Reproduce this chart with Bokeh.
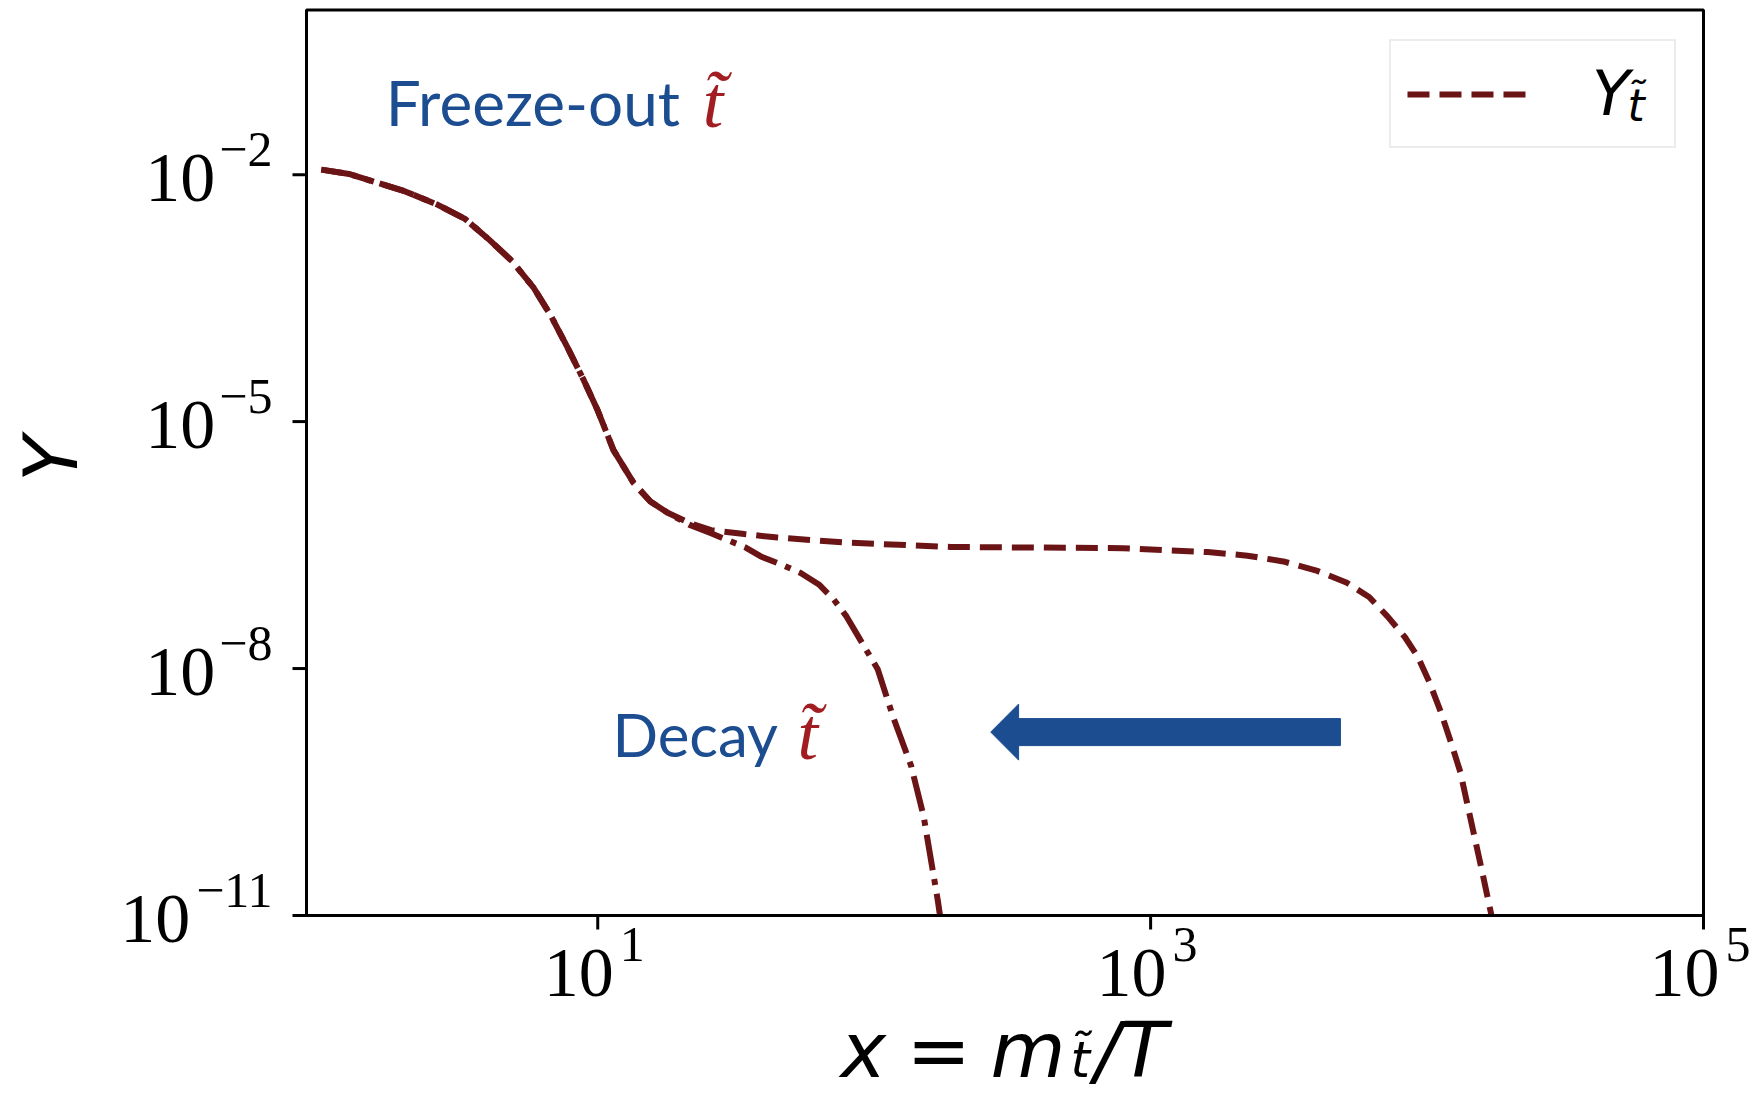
import math
from bokeh.plotting import figure
from bokeh.models import Range1d, Legend, LegendItem
from bokeh.core.properties import value
from bokeh.embed import file_html
from bokeh.resources import INLINE

# ---------------- data ----------------
x_freeze = [1.0, 1.26, 1.55, 2.0, 2.64, 3.31, 4.0, 4.9, 5.87, 6.76, 7.78, 8.91, 10.0,
            11.4, 13.5, 15.5, 17.9, 21.4, 25.7, 33.9, 44.7, 77.6, 189, 794, 1610,
            2240, 3020, 3980, 5130, 6170, 7190, 8320, 9250, 10200, 11200, 12300,
            13200, 14700, 15800, 17100]
Y_freeze = [1.15e-2, 1.02e-2, 8.2e-3, 6.3e-3, 4.3e-3, 2.9e-3, 1.68e-3, 8.9e-4, 4.2e-4,
            1.95e-4, 7.9e-5, 3.16e-5, 1.36e-5, 4.5e-6, 1.78e-6, 1.07e-6, 7.8e-7,
            5.9e-7, 4.8e-7, 4.3e-7, 3.9e-7, 3.4e-7, 3.0e-7, 2.9e-7, 2.6e-7, 2.35e-7,
            2.0e-7, 1.55e-7, 1.1e-7, 7.4e-8, 4.3e-8, 2.4e-8, 1.4e-8, 6.8e-9, 3.0e-9,
            1.17e-9, 5.5e-10, 1.05e-10, 3.5e-11, 1.0e-11]

x_decay = [1.0, 1.26, 1.55, 2.0, 2.64, 3.31, 4.0, 4.9, 5.87, 6.76, 7.78, 8.91, 10.0,
           11.4, 13.5, 15.5, 17.9, 21.4, 25.7, 34.3, 38.9, 45.7, 54.2, 63.1, 71.4,
           79.4, 89.3, 103, 117, 136, 151, 170, 173]
Y_decay = [1.15e-2, 1.02e-2, 8.2e-3, 6.3e-3, 4.3e-3, 2.9e-3, 1.68e-3, 8.9e-4, 4.2e-4,
           1.95e-4, 7.9e-5, 3.16e-5, 1.36e-5, 4.5e-6, 1.78e-6, 1.07e-6, 7.8e-7,
           5.6e-7, 4.4e-7, 2.95e-7, 2.3e-7, 1.86e-7, 1.45e-7, 1.05e-7, 6.9e-8,
           4.3e-8, 2.2e-8, 9.8e-9, 2.6e-9, 6.6e-10, 1.6e-10, 1.5e-11, 1.0e-11]

x_ticks = [1e1, 1e3, 1e5]
x_tick_exponents = ["1", "3", "5"]
y_ticks = [1e-2, 1e-5, 1e-8, 1e-11]
y_tick_exponents = ["\u22122", "\u22125", "\u22128", "\u221211"]

X_MIN, X_MAX = 0.884, 1e5
Y_MIN, Y_MAX = 1e-11, 1.0

# ---------------- layout (pixels) ----------------
W, H = 1757, 1094
FRAME_L, FRAME_R, FRAME_T, FRAME_B = 306, 1703, 9.5, 915
X_DEC = (FRAME_R - FRAME_L) / (math.log10(X_MAX) - math.log10(X_MIN))
Y_DEC = (FRAME_B - FRAME_T) / (math.log10(Y_MAX) - math.log10(Y_MIN))
x_lo = X_MIN * 10 ** (-FRAME_L / X_DEC)
x_hi = X_MAX * 10 ** ((W - FRAME_R) / X_DEC)
y_hi = Y_MAX * 10 ** (FRAME_T / Y_DEC)
y_lo = Y_MIN * 10 ** (-(H - FRAME_B) / Y_DEC)
TEXT_FIX = 23  # renderer draws "alphabetic" text this many px low


def shx(x, px):
    """x data value moved px pixels to the right"""
    return x * 10 ** (px / X_DEC)


def shy(y, px):
    """y data value moved px pixels up"""
    return y * 10 ** (px / Y_DEC)


def tshy(y, px):
    """text baseline position px pixels up (with renderer correction)"""
    return shy(y, px + TEXT_FIX)


# ---------------- style ----------------
CURVE = "#6b1416"
BLUE = "#1c4d91"
RED = "#a11d21"
SERIF = "Liberation Serif"
SANS = "DejaVu Sans"
TICK_FS, EXP_FS = 70, 50

p = figure(width=W, height=H, x_axis_type="log", y_axis_type="log",
           x_range=Range1d(x_lo, x_hi), y_range=Range1d(y_lo, y_hi),
           output_backend="svg", toolbar_location=None,
           min_border=0, min_border_left=0, min_border_right=0,
           min_border_top=0, min_border_bottom=0)
p.axis.visible = False
p.grid.visible = False
p.outline_line_color = None
p.background_fill_color = "white"
p.border_fill_color = "white"

# ---------------- curves ----------------
r_decay = p.line(x_decay, Y_decay, line_color=CURVE, line_width=6,
                 line_dash="36 9 6 9")
r_freeze = p.line(x_freeze, Y_freeze, line_color=CURVE, line_width=6,
                  line_dash="22 10")

# ---------------- frame, axes and ticks ----------------
p.quad(left=[X_MIN], right=[X_MAX], bottom=[Y_MIN], top=[Y_MAX],
       fill_color=None, line_color="black", line_width=3)
p.segment(x0=[X_MIN] * len(y_ticks), y0=y_ticks,
          x1=[shx(X_MIN, -14)] * len(y_ticks), y1=y_ticks,
          line_color="black", line_width=3)
p.segment(x0=x_ticks, y0=[Y_MIN] * len(x_ticks),
          x1=x_ticks, y1=[shy(Y_MIN, -14)] * len(x_ticks),
          line_color="black", line_width=3)


def exp_width(s):
    return sum(0.564 if c == "\u2212" else 0.5 for c in s) * EXP_FS


# y tick labels: "10" + superscript exponent
p.text(x=[shx(X_MIN, -34 - exp_width(e) - 4) for e in y_tick_exponents],
       y=[tshy(t, -26) for t in y_ticks], text=["10"] * len(y_ticks),
       text_align="right", text_baseline="alphabetic", text_font=value(SERIF),
       text_font_size=f"{TICK_FS}px", text_color="black")
p.text(x=[shx(X_MIN, -34)] * len(y_ticks), y=[tshy(t, 2) for t in y_ticks],
       text=y_tick_exponents, text_align="right", text_baseline="alphabetic",
       text_font=value(SERIF), text_font_size=f"{EXP_FS}px", text_color="black")

# x tick labels
p.text(x=[shx(t, 16) for t in x_ticks], y=[tshy(Y_MIN, -80)] * len(x_ticks),
       text=["10"] * len(x_ticks), text_align="right", text_baseline="alphabetic",
       text_font=value(SERIF), text_font_size=f"{TICK_FS}px", text_color="black")
p.text(x=[shx(t, 22) for t in x_ticks], y=[tshy(Y_MIN, -52)] * len(x_ticks),
       text=x_tick_exponents, text_align="left", text_baseline="alphabetic",
       text_font=value(SERIF), text_font_size=f"{EXP_FS}px", text_color="black")

# ---------------- axis titles ----------------
p.text(x=[shx(X_MIN, -230 - 26)], y=[shy(10 ** -5.5, 4)], text=["Y"],
       angle=math.pi / 2, text_align="center", text_baseline="alphabetic",
       text_font=value(SANS), text_font_style="italic", text_font_size="75px",
       text_color="black")

# x = m_t~ / T, piece by piece (offsets in px from the 10^3 tick)
xlab_text = ["x", "=", "m", "/T"]
xlab_dx = [-310, -244, -160, -56]
p.text(x=[shx(1e3, d) for d in xlab_dx], y=[tshy(Y_MIN, -158)] * len(xlab_text),
       text=xlab_text, text_align="left", text_baseline="alphabetic",
       text_font=value(SANS), text_font_style="italic", text_font_size="77px",
       text_color="black")
p.text(x=[shx(1e3, -80)], y=[tshy(Y_MIN, -167)], text=["t\u0303"],
       text_align="left", text_baseline="alphabetic", text_font=value(SANS),
       text_font_style="italic", text_font_size="50px", text_color="black")

# ---------------- annotations ----------------
FREEZE_POS = (1.71, 0.0403)
DECAY_POS = (11.3, 8.5e-10)
p.text(x=[FREEZE_POS[0]], y=[tshy(FREEZE_POS[1], 0)], text=["Freeze-out"],
       text_font=value("Lato"), text_font_size="62px", text_color=BLUE,
       text_baseline="alphabetic")
p.text(x=[shx(FREEZE_POS[0], 317)], y=[tshy(FREEZE_POS[1], 0)], text=["t\u0303"],
       text_font=value(SERIF), text_font_style="italic", text_font_size="74px",
       text_color=RED, text_baseline="alphabetic")
p.text(x=[DECAY_POS[0]], y=[tshy(DECAY_POS[1], 0)], text=["Decay"],
       text_font=value("Lato"), text_font_size="60px", text_color=BLUE,
       text_baseline="alphabetic")
p.text(x=[shx(DECAY_POS[0], 185)], y=[tshy(DECAY_POS[1], 0)], text=["t\u0303"],
       text_font=value(SERIF), text_font_style="italic", text_font_size="74px",
       text_color=RED, text_baseline="alphabetic")

# block arrow pointing left
ARROW_TIP_X, ARROW_BACK_X, ARROW_TAIL_X = 264, 333, 4860
ARROW_Y = 1.69e-9
HEAD_HALF, SHAFT_HALF = 28, 13.5
p.patch([ARROW_TIP_X, ARROW_BACK_X, ARROW_BACK_X, ARROW_TAIL_X, ARROW_TAIL_X,
         ARROW_BACK_X, ARROW_BACK_X],
        [ARROW_Y, shy(ARROW_Y, HEAD_HALF), shy(ARROW_Y, SHAFT_HALF),
         shy(ARROW_Y, SHAFT_HALF), shy(ARROW_Y, -SHAFT_HALF), shy(ARROW_Y, -SHAFT_HALF),
         shy(ARROW_Y, -HEAD_HALF)],
        fill_color=BLUE, line_color=BLUE, line_width=1)

# ---------------- legend ----------------
# subscript of the legend label (drawn under the transparent legend box)
p.text(x=[shx(X_MAX, -76)], y=[tshy(Y_MAX, -(128 - FRAME_T))], text=["t\u0303"],
       text_font=value(SANS), text_font_style="italic", text_font_size="44px",
       text_color="black", text_baseline="alphabetic")
legend = Legend(items=[LegendItem(label="Y", renderers=[r_freeze])],
                location=(1389, H - 148), padding=16, glyph_width=124,
                glyph_height=56, label_width=66, label_height=56, label_standoff=61,
                border_line_color="#d9d9d9", border_line_width=2,
                background_fill_alpha=0,
                label_text_font=SANS, label_text_font_style="italic",
                label_text_font_size="62px", label_text_color="black")
p.add_layout(legend)

open("out.html", "w").write(file_html(p, INLINE))
